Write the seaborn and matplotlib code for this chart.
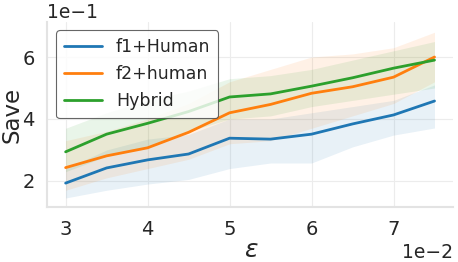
import numpy as np
import pandas as pd
import matplotlib
matplotlib.use("Agg")
import matplotlib.pyplot as plt
import seaborn as sns

eps = [0.03, 0.035, 0.04, 0.045, 0.05, 0.055, 0.06, 0.065, 0.07, 0.075]
methods = ["f1+Human", "f2+human", "Hybrid"]

f1_mean = [0.193, 0.242, 0.268, 0.287, 0.338, 0.335, 0.351, 0.384, 0.413, 0.458]
f2_mean = [0.243, 0.281, 0.307, 0.357, 0.420, 0.447, 0.483, 0.504, 0.535, 0.600]
hy_mean = [0.294, 0.351, 0.386, 0.424, 0.471, 0.481, 0.506, 0.533, 0.564, 0.590]

f1_low = [0.145, 0.170, 0.190, 0.205, 0.240, 0.258, 0.258, 0.310, 0.348, 0.371]
f1_high = [0.240, 0.300, 0.335, 0.350, 0.400, 0.400, 0.420, 0.440, 0.460, 0.510]
f2_low = [0.170, 0.210, 0.240, 0.270, 0.320, 0.330, 0.370, 0.410, 0.450, 0.520]
f2_high = [0.330, 0.360, 0.400, 0.450, 0.520, 0.560, 0.600, 0.610, 0.630, 0.680]
hy_low = [0.230, 0.280, 0.310, 0.360, 0.400, 0.410, 0.440, 0.460, 0.480, 0.500]
hy_high = [0.370, 0.420, 0.460, 0.490, 0.530, 0.540, 0.560, 0.590, 0.620, 0.650]

means = [f1_mean, f2_mean, hy_mean]
lows = [f1_low, f2_low, hy_low]
highs = [f1_high, f2_high, hy_high]

sns.set_theme(style="whitegrid")
plt.rcParams["font.family"] = ["DejaVu Sans"]

df = pd.DataFrame({
    "eps": eps * 3,
    "Save": f1_mean + f2_mean + hy_mean,
    "method": [m for m in methods for _ in eps],
})

fig = plt.figure(figsize=(4.58, 2.62), dpi=100)
ax = fig.add_axes([0.103, 0.21, 0.886, 0.706])
palette = sns.color_palette("tab10", 3)

sns.lineplot(data=df, x="eps", y="Save", hue="method", palette=palette,
             linewidth=2, ax=ax, errorbar=None)
for c, lo, hi in zip(palette, lows, highs):
    ax.fill_between(eps, lo, hi, color=c, alpha=0.1, linewidth=0)

ax.set_xlim(0.02775, 0.07725)
ax.set_ylim(0.116, 0.713)
ax.set_yticks([0.2, 0.4, 0.6])
ax.ticklabel_format(style="sci", axis="both", scilimits=(0, 0))
ax.tick_params(axis="x", labelsize=14, pad=3.5, colors="#262626")
ax.tick_params(axis="y", labelsize=14, pad=3, colors="#262626")
ax.xaxis.get_offset_text().set_fontsize(13.5)
ax.yaxis.get_offset_text().set_fontsize(13.5)
ax.set_xlabel(r"$\epsilon$", fontsize=18)
ax.set_ylabel("Save", fontsize=16.5)
ax.yaxis.set_label_coords(-0.058, 0.5)
ax.xaxis.set_label_coords(0.503, -0.165)
ax.grid(color="#ececec", linewidth=0.8)
sns.despine(ax=ax)
for s in ["left", "bottom"]:
    ax.spines[s].set_color("#e3e3e3")
    ax.spines[s].set_linewidth(1.5)

leg = ax.legend(loc="upper left", bbox_to_anchor=(0.022, 0.955), fontsize=12.5,
                frameon=True, edgecolor="#404040", framealpha=0.8,
                handlelength=2.2, borderpad=0.45, labelspacing=0.52,
                borderaxespad=0)
leg.get_frame().set_linewidth(0.8)

fig.savefig("out.png", dpi=100)
